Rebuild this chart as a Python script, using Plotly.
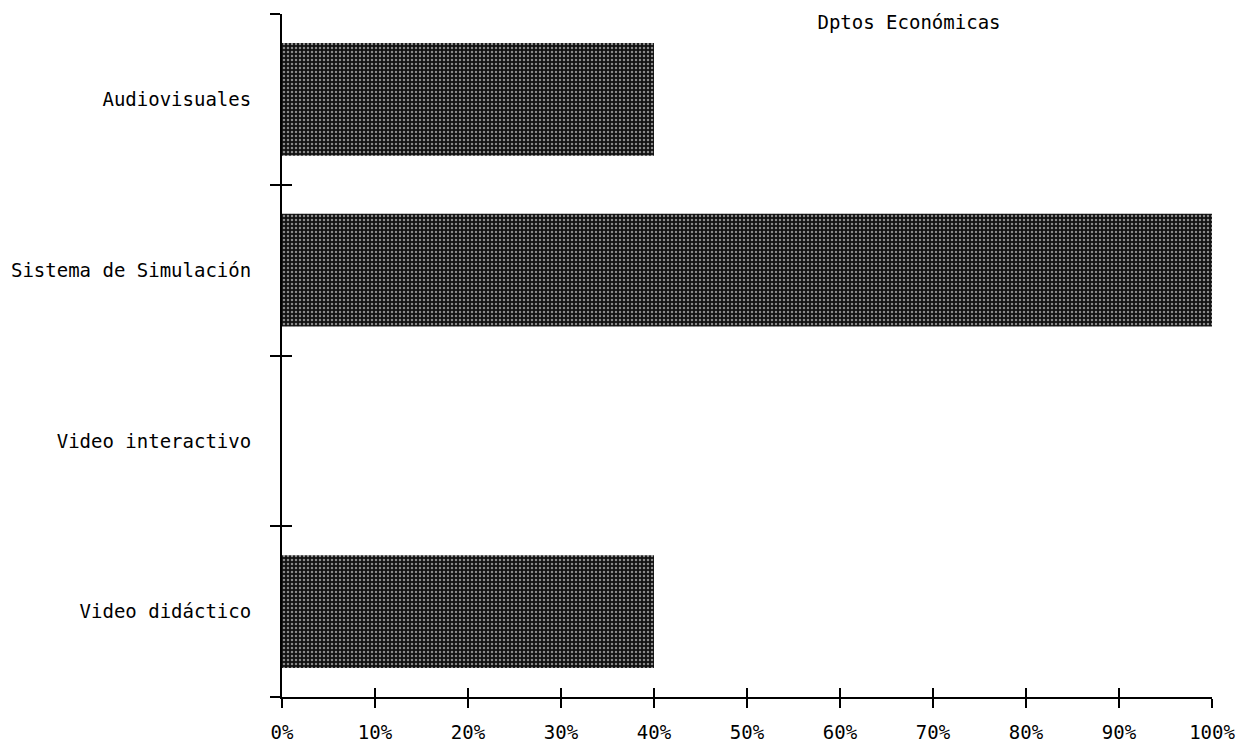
import plotly.graph_objects as go

categories = ["Audiovisuales", "Sistema de Simulación", "Video interactivo", "Video didáctico"]
values = [0.40, 1.00, 0.0, 0.40]
x_ticks = [0, 0.1, 0.2, 0.3, 0.4, 0.5, 0.6, 0.7, 0.8, 0.9, 1.0]
title_text = "Dptos Económicas"

FONT = dict(family="DejaVu Sans Mono", size=19, color="black")

cats_bottom_up = categories[::-1]
vals_bottom_up = values[::-1]

# the page body adds an 8px offset; margins compensate for it
OFF = 8
W, H = 1247, 753
EPS = 1e-4

fig = go.Figure()
fig.add_trace(go.Bar(
    y=cats_bottom_up, x=vals_bottom_up, orientation="h",
    marker=dict(color="#222222",
                line=dict(color="black", width=0),
                pattern=dict(shape=".", fgcolor="white", bgcolor="#111111",
                             size=4, solidity=0.3, fillmode="overlay")),
    showlegend=False, hoverinfo="skip",
))
# helper trace to activate overlay axes (for crossing tick marks)
fig.add_trace(go.Scatter(x=[None], y=[None], xaxis="x2", yaxis="y2",
                         showlegend=False, hoverinfo="skip"))

n = len(categories)
fig.update_layout(
    width=W, height=H,
    margin=dict(l=282 - OFF, r=W - (1212 - OFF), t=14 - OFF, b=H - (697 - OFF), autoexpand=False),
    paper_bgcolor="white", plot_bgcolor="white",
    font=FONT,
    bargap=0.34,
    title=dict(text=title_text, x=(909 - OFF) / W, xanchor="center",
               y=1 - (22 - OFF) / H, yanchor="middle", font=FONT, automargin=False),
    xaxis=dict(range=[0, 1], tickvals=x_ticks, tickformat=".0%",
               ticks="outside", ticklen=9, tickwidth=2, tickcolor="black",
               showline=True, linecolor="black", linewidth=2,
               showgrid=False, zeroline=False, ticklabelstandoff=8,
               tickfont=FONT, automargin=False),
    yaxis=dict(type="category", categoryorder="array", categoryarray=cats_bottom_up,
               range=[-0.5, n - 0.5], tickson="boundaries",
               ticks="outside", ticklen=10, tickwidth=2, tickcolor="black",
               showline=True, linecolor="black", linewidth=2,
               showgrid=False, zeroline=False, ticklabelstandoff=25,
               tickfont=FONT, automargin=False),
    xaxis2=dict(overlaying="x", anchor="y2", range=[-EPS, 1 + EPS], tickvals=x_ticks,
                ticks="inside", ticklen=9, tickwidth=2, tickcolor="black",
                showticklabels=False, showline=False, showgrid=False, zeroline=False,
                automargin=False, side="bottom"),
    yaxis2=dict(overlaying="y", anchor="x2", range=[-0.5 - EPS, n - 0.5 + EPS],
                tickvals=[0.5, 1.5, 2.5, 3.5],
                ticks="inside", ticklen=10, tickwidth=2, tickcolor="black",
                showticklabels=False, showline=False, showgrid=False, zeroline=False,
                automargin=False, side="left"),
)

fig.write_html("out.html")
